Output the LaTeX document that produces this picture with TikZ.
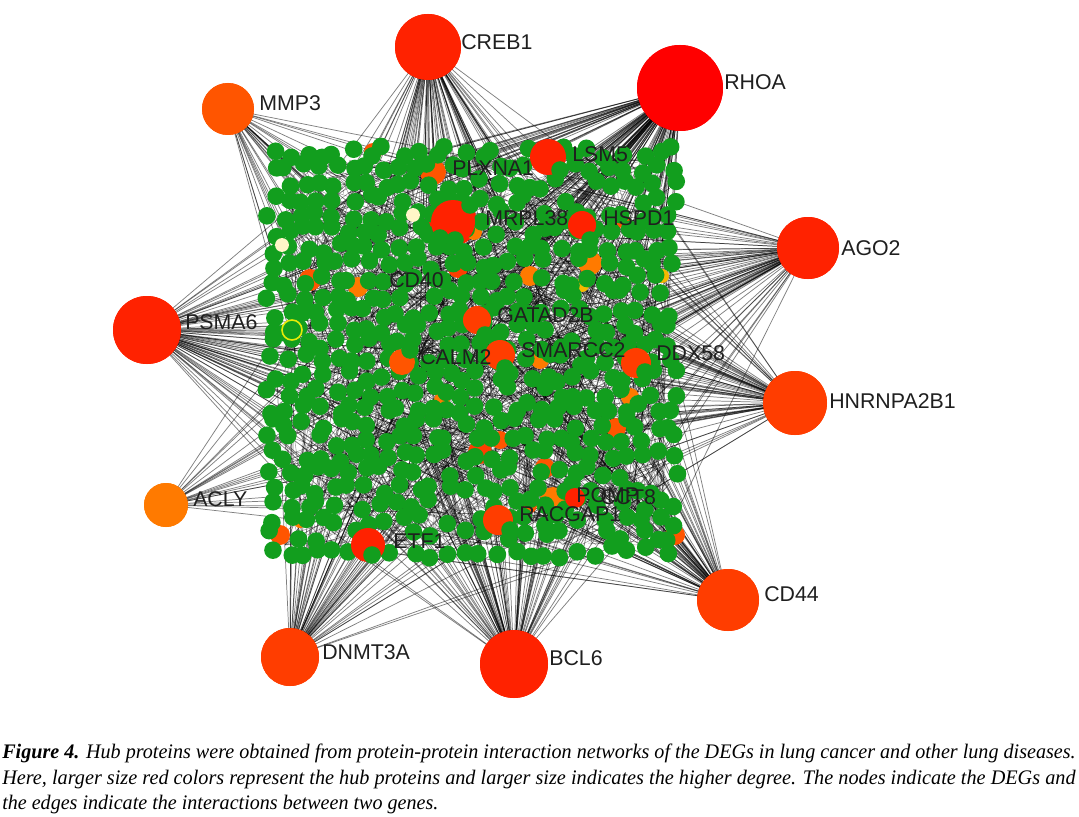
\documentclass[tikz,border=0pt]{standalone}
\usepackage{fontspec}
\setmainfont{Liberation Serif}
\newfontfamily\arialf{Liberation Sans}
\usepackage{graphicx}
\definecolor{dgreen}{RGB}{18,158,30}
\definecolor{cA}{HTML}{FF0000}
\definecolor{cB}{HTML}{FF2200}
\definecolor{cC}{HTML}{FF3D00}
\definecolor{cD}{HTML}{FF5500}
\definecolor{cE}{HTML}{FF7A00}
\definecolor{cY}{HTML}{F5B800}
\definecolor{cream}{HTML}{FFF6C8}
\tikzset{
  hub/.style={circle,inner sep=0pt,draw=none},
  lbl/.style={anchor=west,inner sep=0pt,font=\arialf\fontsize{16pt}{18pt}\selectfont,text=black!88},
  hubedge/.style={draw=black,opacity=0.5,line width=0.55pt},
  mesh/.style={draw=black,opacity=0.4,line width=0.4pt},
  gdot/.style={fill=dgreen},
  captext/.style={anchor=base west,inner sep=0pt,font=\fontsize{15.5pt}{18pt}\selectfont\itshape}
}
\begin{document}
\begin{tikzpicture}[x=0.75pt,y=-0.75pt]
\useasboundingbox (0,0) rectangle (1079,817);
\pgfmathsetseed{4711}
% hubs
\node[hub,fill=cB,minimum size=49.5pt] (creb1) at (428,47) {};
\node[hub,fill=cA,minimum size=64.5pt] (rhoa) at (680,88) {};
\node[hub,fill=cD,minimum size=39pt] (mmp3) at (228,109) {};
\node[hub,fill=cB,minimum size=46.5pt] (ago2) at (808,248) {};
\node[hub,fill=cB,minimum size=51pt] (psma6) at (147,330) {};
\node[hub,fill=cC,minimum size=48pt] (hnrnp) at (795,403) {};
\node[hub,fill=cE,minimum size=33pt] (acly) at (166,505) {};
\node[hub,fill=cC,minimum size=46.5pt] (cd44) at (728,600) {};
\node[hub,fill=cC,minimum size=43.5pt] (dnmt3a) at (290,657) {};
\node[hub,fill=cB,minimum size=51pt] (bcl6) at (514,664) {};
% inner mesh (kept inside the cluster)
\foreach \i in {1,...,1600} {
  \pgfmathsetmacro\ax{285+380*rnd}
  \pgfmathsetmacro\ay{160+385*rnd}
  \pgfmathsetmacro\bx{min(665,max(285,\ax+180*rnd-90))}
  \pgfmathsetmacro\by{min(545,max(160,\ay+180*rnd-90))}
  \draw[mesh] (\ax,\ay) -- (\bx,\by);
}
% hub edges
\foreach \h/\n in {rhoa/130,creb1/80,ago2/70,psma6/80,hnrnp/70,cd44/70,bcl6/85,dnmt3a/60,mmp3/32,acly/24} {
  \foreach \i in {1,...,\n} {
    \pgfmathsetmacro\px{275+395*rnd}
    \pgfmathsetmacro\py{155+395*rnd}
    \draw[hubedge] (\h.center) -- (\px,\py);
  }
}
% redraw hubs over edges
\foreach \c/\s/\x/\y in {cB/49.5/428/47, cA/64.5/680/88, cD/39/228/109, cB/46.5/808/248, cB/51/147/330, cC/48/795/403, cE/33/166/505, cC/46.5/728/600, cC/43.5/290/657, cB/51/514/664} {
  \fill[\c] (\x,\y) circle[radius=\s pt/2];
}
% coloured inner nodes (under)
\foreach \x/\y/\r/\c in {
  433/172/13/cD, 373/152/9/cD, 453/222/24/cB, 310/280/11/cD, 358/287/10/cE,
  458/268/10/cC, 530/276/10/cE, 590/263/12/cE, 582/285/7/cY, 662/276/7/cY,
  540/360/9/cE, 442/400/8/cE, 630/397/9/cE, 616/428/10/cD, 480/452/12/cC,
  500/440/9/cD, 545/468/10/cD, 553/500/13/cE, 528/505/9/cD, 675/535/10/cD,
  280/535/10/cD, 300/522/6/cE, 474/232/8/cE, 622/220/8/cD} {
  \fill[\c] (\x,\y) circle[radius=0.75*\r pt];
}
% green dots
\foreach \gx in {0,...,25} {
  \foreach \gy in {0,...,25} {
    \pgfmathsetmacro\q{rnd}
    \ifdim\q pt<0.9pt
      \fill[gdot] ({272+16*\gx+12*rnd-6},{152+16*\gy+12*rnd-6}) circle[radius=6.6pt];
    \fi
  }
}
% coloured inner nodes (over)
\foreach \x/\y/\r/\c in {
  548/157/18/cB, 582/225/14/cB, 477/320/14/cC, 500/355/15/cC, 402/362/13/cD,
  636/363/15/cC, 575/498/10/cB, 498/520/15/cC, 368/545/17/cB, 453/222/22/cB} {
  \fill[\c] (\x,\y) circle[radius=0.75*\r pt];
}
\fill[cream] (413,215) circle[radius=5.2pt];
\fill[cream] (282,245) circle[radius=5.2pt];
\fill[dgreen] (292,330) circle[radius=7.5pt];
\draw[yellow!90!green,line width=1.2pt] (292,330) circle[radius=7.5pt];
% a few green dots over the coloured ones
\foreach \x/\y in {440/238, 470/205, 560/170, 505/368, 485/335, 410/350, 645/372, 372/555, 510/530, 590/240, 455/240} {
  \fill[gdot] (\x,\y) circle[radius=6.6pt];
}
% hub labels
\node[lbl] (lcreb1) at (461,42) {CREB1};
\node[lbl] (lrhoa) at (724,82) {RHOA};
\node[lbl] (lmmp3) at (259,103) {MMP3};
\node[lbl] (lago2) at (841,248) {AGO2};
\node[lbl] (lpsma6) at (185,322) {PSMA6};
\node[lbl] (lhnrnp) at (829,401) {HNRNPA2B1};
\node[lbl] (lacly) at (193,499) {ACLY};
\node[lbl] (lcd44) at (764,594) {CD44};
\node[lbl] (ldnmt3a) at (322,652) {DNMT3A};
\node[lbl] (lbcl6) at (549,658) {BCL6};
% inner labels
\node[lbl] (lplxna1) at (452,168) {PLXNA1};
\node[lbl] (llsm5) at (572,154) {LSM5};
\node[lbl] (lmrpl38) at (485,218) {MRPL38};
\node[lbl] (lhspd1) at (603,218) {HSPD1};
\node[lbl] (lcd40) at (389,280) {CD40};
\node[lbl] (lgatad2b) at (497,315) {GATAD2B};
\node[lbl] (lsmarcc2) at (521,350) {SMARCC2};
\node[lbl] (lcalm2) at (420,357) {CALM2};
\node[lbl] (lddx58) at (656,353) {DDX58};
\node[lbl] (lpomp) at (576,495) {POMP};
\node[lbl] (lcct8) at (600,497) {CCT8};
\node[lbl] (lracgap1) at (519,514) {RACGAP1};
\node[lbl] (letf1) at (393,541) {ETF1};
% caption
\node[captext] (cap1) at (2,758) {\resizebox{805pt}{\height}{\textbf{Figure 4.} Hub proteins were obtained from protein-protein interaction networks of the DEGs in lung cancer and other lung diseases.}};
\node[captext] (cap2) at (2,784) {\resizebox{805pt}{\height}{Here, larger size red colors represent the hub proteins and larger size indicates the higher degree. The nodes indicate the DEGs and}};
\node[captext] (cap3) at (2,809) {\resizebox{327pt}{\height}{the edges indicate the interactions between two genes.}};
\end{tikzpicture}
\end{document}
